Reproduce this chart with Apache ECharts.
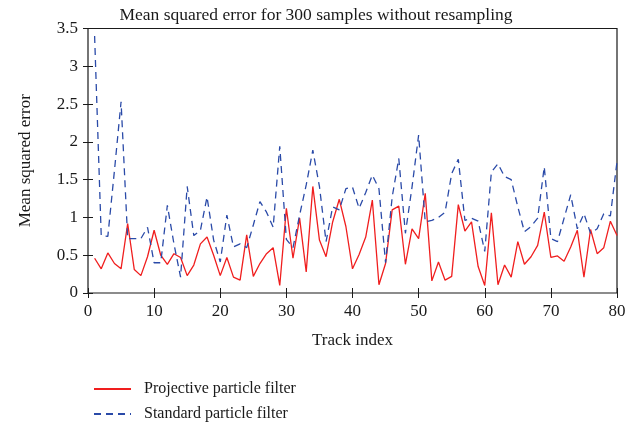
<!DOCTYPE html>
<html>
<head>
<meta charset="utf-8">
<script src="https://cdn.jsdelivr.net/npm/echarts@6/dist/echarts.min.js"></script>
<style>
  html, body { margin: 0; padding: 0; background: #fff; }
  #chart { width: 644px; height: 429px; }
</style>
</head>
<body>
<div id="chart"></div>
<script>
// track index starts at 1
const projective = [
  0.46, 0.32, 0.53, 0.39, 0.32, 0.92, 0.31, 0.23, 0.48, 0.83,
  0.50, 0.38, 0.52, 0.47, 0.23, 0.37, 0.65, 0.74, 0.50, 0.23,
  0.47, 0.21, 0.17, 0.77, 0.22, 0.39, 0.52, 0.60, 0.10, 1.12,
  0.46, 0.99, 0.28, 1.41, 0.70, 0.48, 0.94, 1.24, 0.88, 0.32,
  0.51, 0.74, 1.23, 0.11, 0.39, 1.10, 1.15, 0.38, 0.85, 0.72,
  1.32, 0.16, 0.41, 0.17, 0.22, 1.17, 0.82, 0.94, 0.35, 0.10,
  1.06, 0.11, 0.37, 0.21, 0.68, 0.38, 0.48, 0.63, 1.07, 0.47,
  0.49, 0.42, 0.61, 0.83, 0.21, 0.84, 0.52, 0.60, 0.95, 0.76,
];
const standard = [
  3.40, 0.76, 0.75, 1.62, 2.53, 0.72, 0.72, 0.72, 0.87, 0.40,
  0.40, 1.16, 0.65, 0.21, 1.41, 0.76, 0.83, 1.27, 0.70, 0.41,
  1.03, 0.61, 0.65, 0.60, 0.90, 1.21, 1.07, 0.87, 1.94, 0.71,
  0.60, 1.03, 1.43, 1.89, 1.41, 0.68, 1.14, 1.10, 1.38, 1.40,
  1.12, 1.33, 1.56, 1.38, 0.40, 1.27, 1.78, 0.79, 1.40, 2.09,
  0.94, 0.96, 1.00, 1.07, 1.58, 1.77, 0.96, 0.99, 0.95, 0.55,
  1.60, 1.71, 1.54, 1.50, 1.14, 0.81, 0.88, 0.99, 1.67, 0.72,
  0.68, 0.99, 1.30, 0.85, 1.05, 0.79, 0.85, 1.05, 1.02, 1.74,
];
const seriesNames = ["Projective particle filter", "Standard particle filter"];

const font = "Liberation Serif";
const ink = "#1a1a1a";

function toPoints(arr) {
  return arr.map((v, i) => [i + 1, v]);
}

const hiddenAxis = {
  axisLine: { show: false },
  axisLabel: { show: false },
  splitLine: { show: false },
  axisTick: { show: true, inside: true, length: 5, lineStyle: { color: ink } },
};

const chart = echarts.init(document.getElementById("chart"), null, { renderer: "canvas" });
chart.setOption({
  animation: false,
  backgroundColor: "#fff",
  textStyle: { fontFamily: font },
  title: {
    text: "Mean squared error for 300 samples without resampling",
    left: 311,
    textAlign: "center",
    top: 1,
    textStyle: { fontFamily: font, fontSize: 17.5, fontWeight: "normal", color: ink },
  },
  grid: {
    left: 88,
    right: 27,
    top: 28.5,
    bottom: 136,
    show: true,
    borderColor: ink,
    borderWidth: 1.2,
    backgroundColor: "transparent",
  },
  legend: {
    orient: "vertical",
    left: 88,
    top: 376,
    itemWidth: 37,
    itemHeight: 12,
    itemGap: 9,
    data: seriesNames,
    itemStyle: { opacity: 0 },
    textStyle: { fontFamily: font, fontSize: 16, color: ink, padding: [0, 0, 0, 8] },
  },
  xAxis: [
    {
      type: "value",
      min: 0,
      max: 80,
      interval: 10,
      position: "bottom",
      name: "Track index",
      nameLocation: "middle",
      nameGap: 39,
      nameTextStyle: { fontFamily: font, fontSize: 17, color: ink },
      axisLine: { show: false },
      axisTick: { inside: true, length: 5, lineStyle: { color: ink } },
      axisLabel: { fontFamily: font, fontSize: 17, color: ink, margin: 10 },
      splitLine: { show: false },
    },
    Object.assign({ type: "value", min: 0, max: 80, interval: 10, position: "top" }, hiddenAxis),
  ],
  yAxis: [
    {
      type: "value",
      min: 0,
      max: 3.5,
      interval: 0.5,
      position: "left",
      name: "Mean squared error",
      nameLocation: "middle",
      nameGap: 54,
      nameTextStyle: { fontFamily: font, fontSize: 17, color: ink },
      axisLine: { show: false },
      axisTick: { inside: true, length: 5, lineStyle: { color: ink } },
      axisLabel: { fontFamily: font, fontSize: 17, color: ink, margin: 10 },
      splitLine: { show: false },
    },
    Object.assign({ type: "value", min: 0, max: 3.5, interval: 0.5, position: "right" }, hiddenAxis),
  ],
  series: [
    {
      name: seriesNames[0],
      type: "line",
      data: toPoints(projective),
      symbol: "none",
      lineStyle: { color: "#f01e1e", width: 1.3 },
      itemStyle: { color: "#f01e1e" },
    },
    {
      name: seriesNames[1],
      type: "line",
      data: toPoints(standard),
      symbol: "none",
      lineStyle: { color: "#2a4aa8", width: 1.3, type: [7, 5] },
      itemStyle: { color: "#2a4aa8" },
    },
  ],
});
</script>
</body>
</html>
